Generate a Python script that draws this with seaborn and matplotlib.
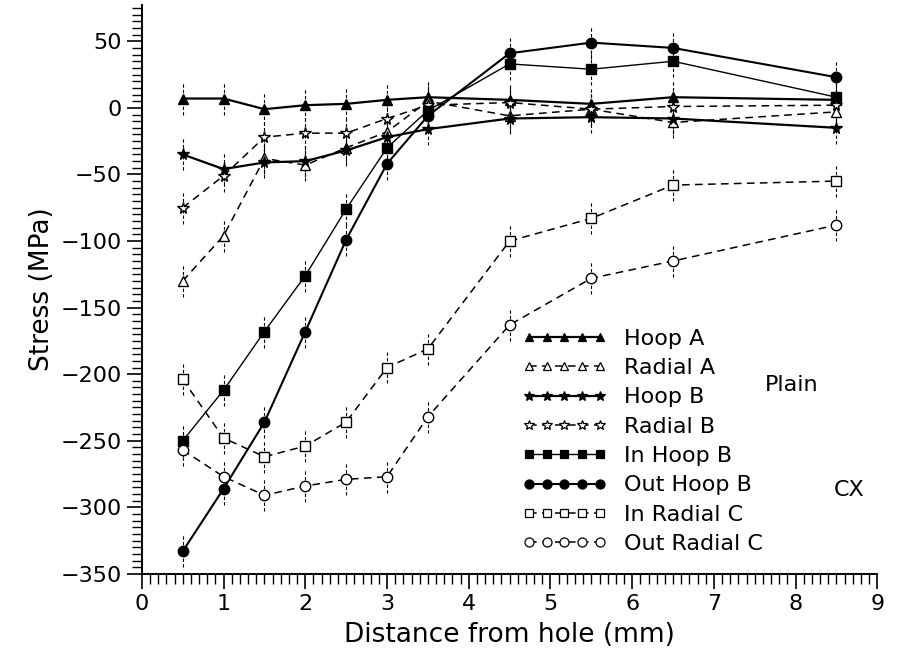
import numpy as np
import pandas as pd
import matplotlib
matplotlib.use('Agg')
import matplotlib.pyplot as plt
from matplotlib.lines import Line2D
from matplotlib.ticker import MultipleLocator
import seaborn as sns

# Distance from hole (mm) where stresses were measured
distance = [0.5, 1.0, 1.5, 2.0, 2.5, 3.0, 3.5, 4.5, 5.5, 6.5, 8.5]

# Stress values (MPa)
hoop_a = [7, 7, -1, 2, 3, 6, 8, 6, 3, 8, 6]
radial_a = [-130, -96, -38, -43, -30, -18, 5, -6, -1, -11, -3]
hoop_b = [-35, -46, -41, -40, -32, -22, -16, -8, -7, -8, -15]
radial_b = [-75, -51, -22, -19, -19, -8, 2, 4, -1, 1, 2]
in_hoop_b = [-250, -212, -168, -126, -76, -30, -2, 33, 29, 35, 8]
out_hoop_b = [-333, -286, -236, -168, -99, -42, -6, 41, 49, 45, 23]
in_radial_c = [-204, -248, -262, -254, -236, -195, -181, -100, -83, -58, -55]
out_radial_c = [-257, -277, -291, -284, -279, -277, -232, -163, -128, -115, -88]

# measurement uncertainty shown as vertical bars (MPa)
err = 12

series = {
    'Hoop A': hoop_a,
    'Radial A': radial_a,
    'Hoop B': hoop_b,
    'Radial B': radial_b,
    'In Hoop B': in_hoop_b,
    'Out Hoop B': out_hoop_b,
    'In Radial C': in_radial_c,
    'Out Radial C': out_radial_c,
}

# marker, filled?, linestyle, linewidth
styles = {
    'Hoop A': ('^', True, '-', 1.6),
    'Radial A': ('^', False, (0, (5, 3.5)), 1.1),
    'Hoop B': ('*', True, '-', 1.6),
    'Radial B': ('*', False, (0, (5, 3.5)), 1.1),
    'In Hoop B': ('s', True, '-', 1.0),
    'Out Hoop B': ('o', True, '-', 1.5),
    'In Radial C': ('s', False, (0, (5, 3.5)), 1.1),
    'Out Radial C': ('o', False, (0, (5, 3.5)), 1.1),
}
msize = {'^': 6.5, '*': 8.5, 's': 6.5, 'o': 7.5}

df = pd.DataFrame([
    {'Distance': d, 'Stress': v, 'Series': name}
    for name, vals in series.items() for d, v in zip(distance, vals)
])

sns.set_style('ticks')
plt.rcParams['font.family'] = ['DejaVu Sans']
plt.rcParams['text.color'] = 'black'
plt.rcParams['axes.labelcolor'] = 'black'

fig = plt.figure(figsize=(8.98, 6.65), dpi=100)
ax = fig.add_axes([0.158, 0.137, 0.819, 0.855])

# error bars behind everything
for name, vals in series.items():
    vals = np.array(vals)
    ax.vlines(distance, vals - err, vals + err, colors='black',
              linestyles=(0, (3, 2)), linewidth=0.8, zorder=1)

handles = []
for name in series:
    marker, filled, ls, lw = styles[name]
    sub = df[df['Series'] == name]
    sns.lineplot(data=sub, x='Distance', y='Stress', ax=ax, color='black',
                 linestyle=ls, linewidth=lw, marker=marker,
                 markersize=msize[marker],
                 markerfacecolor='black' if filled else 'white',
                 markeredgecolor='black', markeredgewidth=1.0,
                 zorder=3, legend=False)
    handles.append(Line2D([], [], color='black', linestyle=ls, linewidth=lw,
                          marker=marker, markersize=msize[marker] - 1,
                          markerfacecolor='black' if filled else 'white',
                          markeredgecolor='black', markeredgewidth=0.9,
                          label=name))

ax.set_xlim(0, 9)
ax.set_ylim(-350, 77)
ax.xaxis.set_major_locator(MultipleLocator(1))
ax.xaxis.set_minor_locator(MultipleLocator(0.1))
ax.yaxis.set_major_locator(MultipleLocator(50))
ax.yaxis.set_minor_locator(MultipleLocator(5))
ax.tick_params(which='major', length=11, width=1.2, direction='out',
               labelsize=16, color='black', labelcolor='black')
ax.tick_params(which='minor', length=7, width=1.0, direction='out',
               color='black')
sns.despine(ax=ax)
for sp in ['left', 'bottom']:
    ax.spines[sp].set_linewidth(1.4)
    ax.spines[sp].set_color('black')

ax.set_xlabel('Distance from hole (mm)', fontsize=19, labelpad=6)
ax.set_ylabel('Stress (MPa)', fontsize=19, labelpad=4)

leg = ax.legend(handles=handles, loc='upper left',
                bbox_to_anchor=(0.505, 0.447), frameon=False, numpoints=5,
                handlelength=3.8, handletextpad=0.8, labelspacing=0.42,
                fontsize=16, borderaxespad=0)
for t in leg.get_texts():
    t.set_color('black')

ax.text(7.95, -208, 'Plain', fontsize=16, ha='center', va='center')
ax.text(8.66, -287, 'CX', fontsize=16, ha='center', va='center')

fig.savefig('out.png', dpi=100)
